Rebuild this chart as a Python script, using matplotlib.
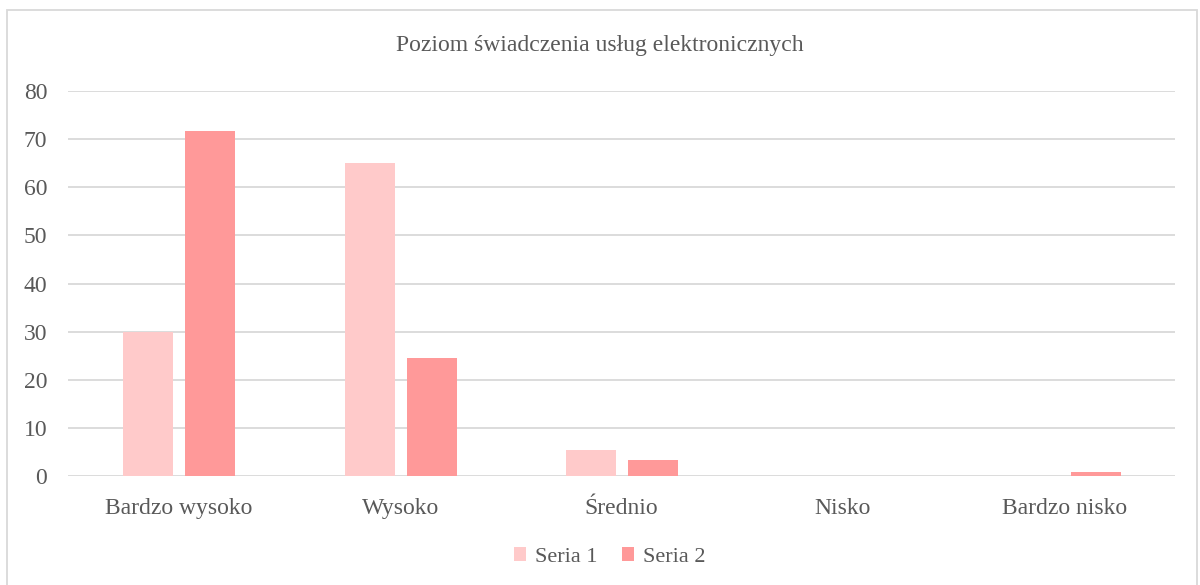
import numpy as np
import matplotlib.pyplot as plt
from matplotlib.patches import Rectangle

# ----------------------------
# Data
# ----------------------------
categories = ["Bardzo wysoko", "Wysoko", "Średnio", "Nisko", "Bardzo nisko"]
seria_1 = [29.9, 65.0, 5.4, 0.0, 0.0]
seria_2 = [71.6, 24.5, 3.3, 0.0, 0.8]
series_names = ["Seria 1", "Seria 2"]

COLOR_1 = "#FFCACA"
COLOR_2 = "#FF9999"
TEXT = "#595959"
GRID = "#D9D9D9"

plt.rcParams["font.family"] = ["Liberation Serif", "DejaVu Serif"]


def main():
    fig = plt.figure(figsize=(12, 5.85), dpi=100)
    ax = fig.add_axes([68 / 1200, 1 - 476 / 585, (1175 - 68) / 1200, (476 - 91) / 585])

    x = np.arange(len(categories))
    width = 0.226
    offset = 0.143
    ax.bar(x - offset + 0.005, seria_1, width, color=COLOR_1, label=series_names[0], zorder=3)
    ax.bar(x + offset, seria_2, width, color=COLOR_2, label=series_names[1], zorder=3)

    ax.set_xlim(-0.5, len(categories) - 0.5)
    ax.set_ylim(0, 80)
    ax.set_yticks(np.arange(0, 81, 10))
    ax.set_xticks(x)
    ax.set_xticklabels(categories)
    ax.tick_params(axis="both", length=0, colors=TEXT, labelsize=17)
    ax.tick_params(axis="y", pad=15)
    ax.tick_params(axis="x", pad=16)
    ax.grid(axis="y", color=GRID, linewidth=1.3, zorder=0)
    for s in ax.spines.values():
        s.set_visible(False)

    fig.text(0.5, 1 - 46 / 585, "Poziom świadczenia usług elektronicznych",
             ha="center", va="center", fontsize=17, color=TEXT)

    fig.legend(loc="center", bbox_to_anchor=(0.508, 1 - 557 / 585), ncol=2,
               frameon=False, fontsize=16, labelcolor=TEXT,
               handlelength=0.55, handleheight=0.55, handletextpad=0.4,
               columnspacing=1.1)

    fig.patches.append(Rectangle((7 / 1200, -0.05), 1 - 10 / 1200, 1.05 - 10 / 585,
                                 transform=fig.transFigure, fill=False,
                                 edgecolor=GRID, linewidth=1.3))

    fig.savefig("out.png", dpi=100)


if __name__ == "__main__":
    main()
